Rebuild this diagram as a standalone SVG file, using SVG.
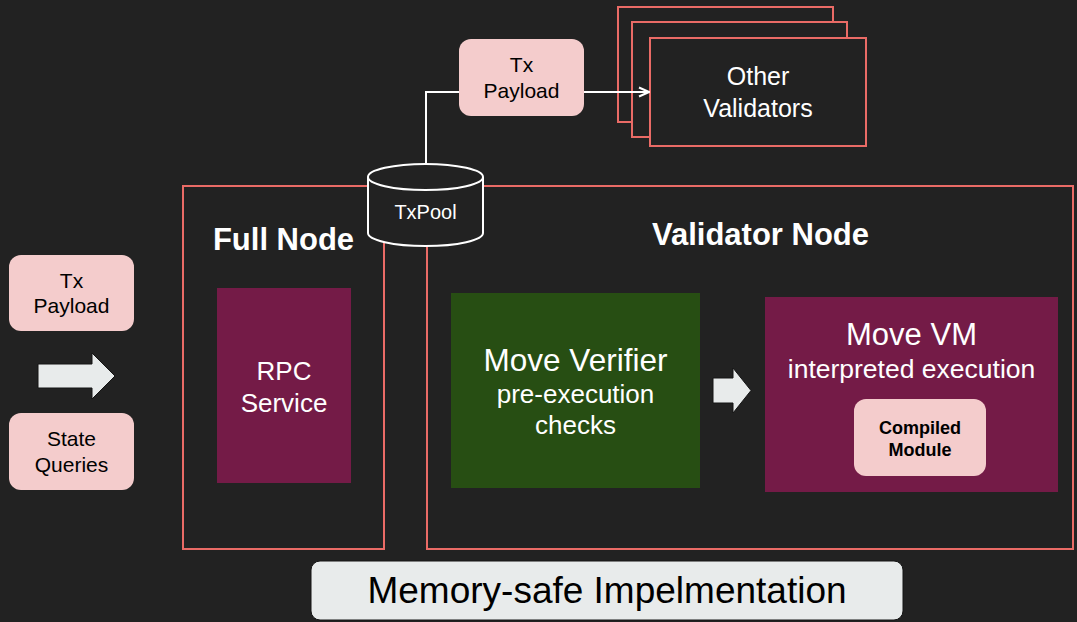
<svg xmlns="http://www.w3.org/2000/svg" width="1077" height="622" viewBox="0 0 1077 622">
  <defs>
    <style>
      .bg { fill: #222222; }
      .frame { fill: none; stroke: #ea6b66; stroke-width: 2; }
      .stack { fill: #222222; stroke: #ea6b66; stroke-width: 2; }
      .pink { fill: #f4cccc; }
      .plum { fill: #741b47; }
      .forest { fill: #274e13; }
      .bigarrow { fill: #e8ebeb; stroke: #151515; stroke-width: 1; }
      .wire { fill: none; stroke: #ffffff; stroke-width: 2; }
      .drum { fill: #222222; stroke: #ffffff; stroke-width: 2; }
      text { font-family: "Liberation Sans", Arial, sans-serif; text-anchor: middle; }
      .light { fill: #ffffff; }
      .dark { fill: #000000; }
      .title { font-size: 31px; font-weight: bold; }
    </style>
    <marker id="openArrow" viewBox="0 0 12 12" refX="11" refY="6" markerWidth="12" markerHeight="12" markerUnits="userSpaceOnUse" orient="auto">
      <path d="M1,1.5 L11,6 L1,10.5" fill="none" stroke="#ffffff" stroke-width="2"/>
    </marker>
  </defs>

  <rect class="bg" x="0" y="0" width="1077" height="622"/>

  <!-- request inputs on the left -->
  <g id="tx-payload-in">
    <rect class="pink" x="9" y="255" width="125" height="76" rx="12"/>
    <text class="dark" x="71.5" y="288" font-size="21">Tx</text>
    <text class="dark" x="71.5" y="313" font-size="21">Payload</text>
  </g>
  <g id="state-queries">
    <rect class="pink" x="9" y="413" width="125" height="77" rx="12"/>
    <text class="dark" x="71.5" y="446" font-size="21">State</text>
    <text class="dark" x="71.5" y="472" font-size="21">Queries</text>
  </g>
  <g id="input-arrow">
    <polygon class="bigarrow" points="38,364 92,364 92,353 115,376 92,399 92,388 38,388"/>
  </g>

  <!-- full node container -->
  <g id="full-node">
    <rect class="frame" x="183" y="186" width="201" height="363"/>
    <text class="light title" x="283.5" y="250">Full Node</text>
  </g>
  <g id="rpc-service">
    <rect class="plum" x="217" y="288" width="134" height="195"/>
    <text class="light" x="284" y="380" font-size="26">RPC</text>
    <text class="light" x="284" y="412" font-size="26">Service</text>
  </g>

  <!-- validator node container -->
  <g id="validator-node">
    <rect class="frame" x="427" y="186" width="646" height="363"/>
    <text class="light title" x="760.5" y="245">Validator Node</text>
  </g>
  <g id="move-verifier">
    <rect class="forest" x="451" y="293" width="249" height="195"/>
    <text class="light" x="575.5" y="371" font-size="31.5">Move Verifier</text>
    <text class="light" x="575.5" y="403" font-size="26">pre-execution</text>
    <text class="light" x="575.5" y="434" font-size="26">checks</text>
  </g>
  <g id="verify-to-exec">
    <polygon class="bigarrow" points="713,378 733,378 733,368 751,390.5 733,413 733,403 713,403"/>
  </g>
  <g id="move-vm">
    <rect class="plum" x="765" y="297" width="293" height="195"/>
    <text class="light" x="911.5" y="345" font-size="31">Move VM</text>
    <text class="light" x="911.5" y="378" font-size="26.5">interpreted execution</text>
  </g>
  <g id="compiled-module">
    <rect class="pink" x="854" y="399" width="132" height="77" rx="12"/>
    <text class="dark" x="920" y="434" font-size="18" font-weight="bold">Compiled</text>
    <text class="dark" x="920" y="456" font-size="18" font-weight="bold">Module</text>
  </g>

  <g id="txpool">
    <path class="drum" d="M368,177 A57.5,13 0 0 1 483,177 V233 A57.5,13 0 0 1 368,233 Z"/>
    <path class="wire" d="M368,177 A57.5,13 0 0 0 483,177"/>
    <text class="light" x="425.5" y="219" font-size="20">TxPool</text>
  </g>

  <g id="other-validators">
    <rect class="stack" x="618" y="7" width="215" height="115"/>
    <rect class="stack" x="632" y="22" width="215" height="115"/>
    <rect class="stack" x="650" y="38" width="216" height="108"/>
    <text class="light" x="758" y="85" font-size="25">Other</text>
    <text class="light" x="758" y="117" font-size="25">Validators</text>
  </g>

  <!-- gossip from the pool to the rest of the network -->
  <g id="connectors">
    <path class="wire" d="M426,164 V92 H459"/>
    <path class="wire" d="M584,92 H649" marker-end="url(#openArrow)"/>
  </g>

  <g id="tx-payload-out">
    <rect class="pink" x="459" y="39" width="125" height="77" rx="12"/>
    <text class="dark" x="521.5" y="72" font-size="21">Tx</text>
    <text class="dark" x="521.5" y="98" font-size="21">Payload</text>
  </g>

  <g id="memory-safe-label">
    <rect x="311" y="561" width="592" height="59" rx="9" fill="#e8ebeb" stroke="#151515" stroke-width="1"/>
    <text class="dark" x="607" y="603" font-size="37">Memory-safe Impelmentation</text>
  </g>
</svg>
